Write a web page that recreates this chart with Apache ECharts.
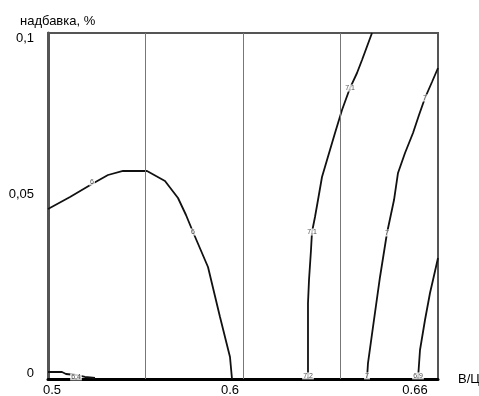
<!DOCTYPE html>
<html>
<head>
<meta charset="utf-8">
<script src="https://cdn.jsdelivr.net/npm/echarts@6/dist/echarts.min.js"></script>
<style>html,body{margin:0;padding:0;background:#fff}#c{width:479px;height:396px}</style>
</head>
<body>
<div id="c"></div>
<script>
// Tick labels and where they sit on the axes (data units)
var xTickLabels = ['0.5', '0.6', '0.66'];
var xTickAt = [0.50205, 0.59333, 0.68821];
var yTickLabels = ['0', '0,05', '0,1'];
var yTickAt = [0.00173, 0.05347, 0.09855];
// vertical reference lines
var gridX = [0.55128, 0.60051, 0.65128];

// Contour lines [В/Ц, надбавка]
var contourA = [[0.5,0.04913],[0.51128,0.0526],[0.52256,0.05636],[0.53077,0.05896],[0.53846,0.06012],[0.55077,0.06012],[0.56,0.05723],[0.56667,0.05231],[0.57077,0.0474],[0.57436,0.04249],[0.58205,0.03237],[0.58821,0.01792],[0.59333,0.00636],[0.59436,0]];
var contourB = [[0.66615,0.1],[0.66103,0.0922],[0.65846,0.08844],[0.65487,0.0841],[0.65077,0.07775],[0.64718,0.0711],[0.64308,0.06329],[0.64051,0.05838],[0.63846,0.05173],[0.63692,0.04682],[0.63538,0.04249],[0.63487,0.03728],[0.63385,0.02861],[0.63333,0.02197],[0.63333,0]];
var contourC = [[0.7,0.08988],[0.69692,0.08584],[0.69333,0.08121],[0.69026,0.0763],[0.68718,0.0711],[0.68308,0.06532],[0.67949,0.05954],[0.67744,0.05173],[0.67385,0.0422],[0.67026,0.02948],[0.66667,0.01503],[0.6641,0.00462],[0.66359,0]];
var contourD = [[0.7,0.03497],[0.69744,0.02861],[0.6959,0.02486],[0.69333,0.01705],[0.69077,0.00838],[0.68974,0]];
var contourE = [[0.5,0.00202],[0.50718,0.00202],[0.50923,0.00145],[0.51436,0.00116],[0.51897,0.00058],[0.5241,0.00029]];
// Contour labels [x, y, text]
var contourLabels = [
  [0.52256,0.05694,'6'],[0.57436,0.04249,'6'],
  [0.65487,0.0841,'7,1'],[0.63538,0.04249,'7,1'],[0.63333,0.0009,'7,2'],
  [0.69333,0.08121,'7'],[0.67385,0.0422,'7'],[0.66359,0.0009,'7'],
  [0.68974,0.0009,'6,9'],[0.51436,0.0006,'6,4']
];

var FONT = 'Liberation Sans, Arial, sans-serif';
function lookup(v, at, labels) {
  for (var i = 0; i < at.length; i++) if (Math.abs(v - at[i]) < 1e-6) return labels[i];
  return '';
}
function contour(data, withGrid) {
  var s = {
    type: 'line', data: data, showSymbol: false, silent: true,
    lineStyle: { color: '#111', width: 1.8 }, z: 3
  };
  if (withGrid) {
    s.markLine = {
      silent: true, symbol: ['none', 'none'], label: { show: false },
      lineStyle: { color: '#777', width: 1, type: 'solid' },
      data: gridX.map(function (v) { return { xAxis: v }; })
    };
  }
  return s;
}
var chart = echarts.init(document.getElementById('c'));
chart.setOption({
  animation: false,
  backgroundColor: '#fff',
  textStyle: { fontFamily: FONT },
  title: { text: 'надбавка, %', left: 15, top: 10, textStyle: { fontSize: 13, fontWeight: 'normal', color: '#000', fontFamily: FONT } },
  grid: { left: 48, right: 41, top: 33, bottom: 17, show: true, borderColor: '#555', borderWidth: 2,
    containLabel: false, outerBoundsMode: 'none' },
  xAxis: {
    type: 'value', min: 0.5, max: 0.7,
    name: 'В/Ц', nameLocation: 'end', nameGap: 20,
    nameTextStyle: { fontSize: 13, color: '#000', fontFamily: FONT, padding: [22, 0, 0, 0] },
    axisLine: { show: true, lineStyle: { color: '#000', width: 3 } },
    axisTick: { show: false }, splitLine: { show: false },
    axisLabel: { customValues: xTickAt, fontSize: 13, color: '#000', margin: 5, fontFamily: FONT,
      formatter: function (v) { return lookup(v, xTickAt, xTickLabels); } }
  },
  yAxis: {
    type: 'value', min: 0, max: 0.1,
    axisLine: { show: true, lineStyle: { color: '#555', width: 3 } },
    axisTick: { show: false }, splitLine: { show: false },
    axisLabel: { customValues: yTickAt, fontSize: 13, color: '#000', margin: 14, fontFamily: FONT,
      formatter: function (v) { return lookup(v, yTickAt, yTickLabels); } }
  },
  series: [
    contour(contourA, true), contour(contourB), contour(contourC), contour(contourD), contour(contourE),
    {
      type: 'scatter', silent: true, z: 4, symbolSize: 1,
      itemStyle: { color: 'rgba(0,0,0,0)' },
      data: contourLabels.map(function (d) { return { value: [d[0], d[1]], name: d[2] }; }),
      label: { show: true, position: 'inside', formatter: '{b}', fontSize: 7, color: '#222',
        backgroundColor: '#fff', padding: [0, 1], fontFamily: FONT }
    }
  ]
});
</script>
</body>
</html>
